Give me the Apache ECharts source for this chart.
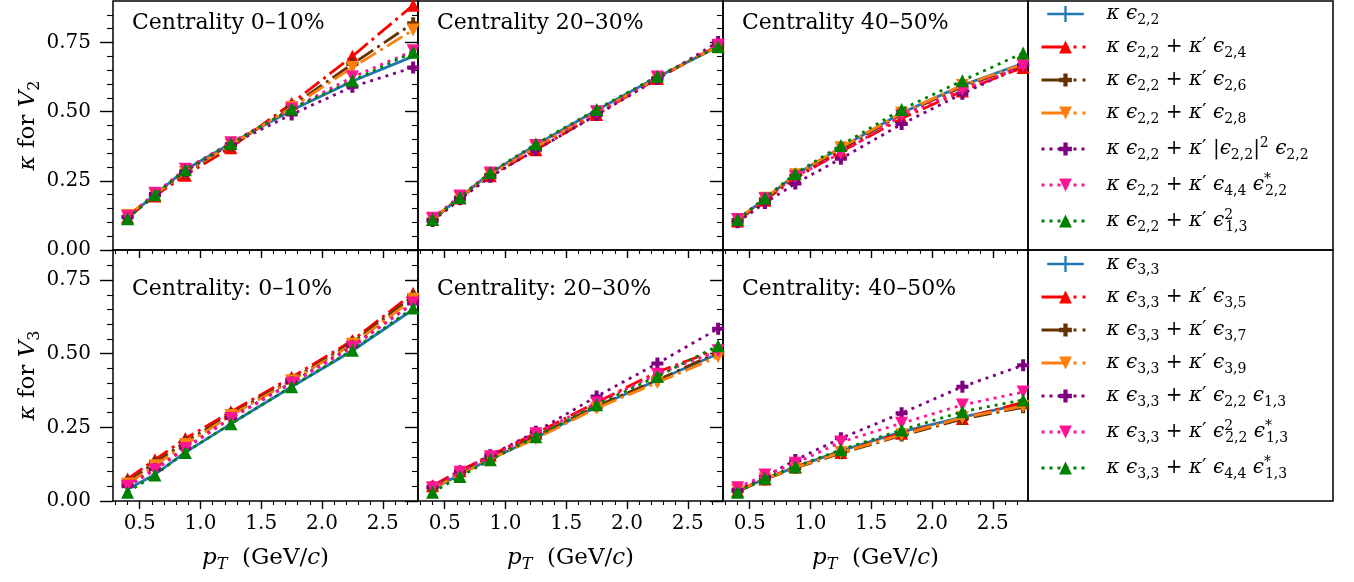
<!DOCTYPE html>
<html><head><meta charset="utf-8">
<script src="https://cdn.jsdelivr.net/npm/echarts@6/dist/echarts.min.js"></script>
<style>html,body{margin:0;padding:0;background:#fff}#c{width:1354px;height:582px}</style>
</head><body><div id="c"></div>
<script>
// ---------------- data ----------------
const pT = [0.4, 0.625, 0.875, 1.25, 1.75, 2.25, 2.75];
const xMajorTicks = [0.5, 1.0, 1.5, 2.0, 2.5];
const yMajorTicks = [0, 0.25, 0.5, 0.75];
const titlesV2 = ['Centrality 0–10%', 'Centrality 20–30%', 'Centrality 40–50%'];
const titlesV3 = ['Centrality: 0–10%', 'Centrality: 20–30%', 'Centrality: 40–50%'];

// series order: blue, red, brown, orange, purple, pink, green
const v2_c0_10 = [
  [0.118, 0.200, 0.290, 0.385, 0.505, 0.610, 0.700],
  [0.118, 0.195, 0.270, 0.370, 0.530, 0.700, 0.885],
  [0.120, 0.198, 0.278, 0.377, 0.520, 0.672, 0.820],
  [0.125, 0.200, 0.280, 0.380, 0.515, 0.660, 0.795],
  [0.118, 0.202, 0.285, 0.382, 0.490, 0.590, 0.660],
  [0.120, 0.205, 0.292, 0.388, 0.510, 0.625, 0.720],
  [0.113, 0.200, 0.290, 0.385, 0.510, 0.612, 0.715]
];
const v2_c20_30 = [
  [0.110, 0.190, 0.278, 0.380, 0.505, 0.625, 0.735],
  [0.110, 0.188, 0.268, 0.362, 0.490, 0.620, 0.740],
  [0.110, 0.190, 0.272, 0.370, 0.495, 0.622, 0.738],
  [0.112, 0.190, 0.273, 0.372, 0.497, 0.622, 0.738],
  [0.105, 0.183, 0.265, 0.362, 0.488, 0.618, 0.752],
  [0.115, 0.195, 0.278, 0.378, 0.500, 0.625, 0.740],
  [0.110, 0.190, 0.280, 0.383, 0.508, 0.628, 0.735]
];
const v2_c40_50 = [
  [0.110, 0.185, 0.272, 0.370, 0.495, 0.595, 0.675],
  [0.105, 0.180, 0.260, 0.355, 0.475, 0.575, 0.660],
  [0.108, 0.183, 0.268, 0.365, 0.490, 0.590, 0.668],
  [0.110, 0.187, 0.272, 0.370, 0.495, 0.595, 0.672],
  [0.100, 0.170, 0.240, 0.330, 0.455, 0.565, 0.668],
  [0.110, 0.185, 0.265, 0.350, 0.485, 0.580, 0.665],
  [0.110, 0.188, 0.276, 0.378, 0.508, 0.612, 0.712]
];
const v3_c0_10 = [
  [0.040, 0.090, 0.165, 0.262, 0.388, 0.510, 0.650],
  [0.075, 0.140, 0.212, 0.303, 0.420, 0.545, 0.705],
  [0.065, 0.130, 0.200, 0.295, 0.412, 0.538, 0.695],
  [0.058, 0.120, 0.192, 0.290, 0.408, 0.532, 0.685],
  [0.050, 0.108, 0.180, 0.282, 0.402, 0.525, 0.670],
  [0.050, 0.105, 0.178, 0.280, 0.400, 0.522, 0.672],
  [0.030, 0.088, 0.165, 0.262, 0.388, 0.512, 0.655]
];
const v3_c20_30 = [
  [0.040, 0.090, 0.142, 0.215, 0.320, 0.410, 0.500],
  [0.052, 0.103, 0.155, 0.230, 0.335, 0.438, 0.515],
  [0.045, 0.095, 0.147, 0.220, 0.322, 0.410, 0.505],
  [0.042, 0.090, 0.143, 0.212, 0.315, 0.402, 0.490],
  [0.048, 0.100, 0.155, 0.235, 0.355, 0.467, 0.585],
  [0.045, 0.098, 0.150, 0.228, 0.333, 0.430, 0.510],
  [0.030, 0.083, 0.140, 0.218, 0.327, 0.423, 0.527]
];
const v3_c40_50 = [
  [0.035, 0.075, 0.115, 0.170, 0.235, 0.285, 0.330],
  [0.035, 0.075, 0.115, 0.165, 0.230, 0.280, 0.335],
  [0.033, 0.073, 0.112, 0.162, 0.222, 0.278, 0.318],
  [0.035, 0.075, 0.113, 0.165, 0.225, 0.283, 0.322],
  [0.038, 0.082, 0.139, 0.213, 0.298, 0.388, 0.461],
  [0.045, 0.088, 0.128, 0.200, 0.264, 0.326, 0.370],
  [0.030, 0.077, 0.116, 0.174, 0.241, 0.303, 0.343]
];

const names2 = ['κ ϵ2,2', 'κ ϵ2,2 + κ′ ϵ2,4', 'κ ϵ2,2 + κ′ ϵ2,6', 'κ ϵ2,2 + κ′ ϵ2,8',
  'κ ϵ2,2 + κ′ |ϵ2,2|² ϵ2,2', 'κ ϵ2,2 + κ′ ϵ4,4 ϵ*2,2', 'κ ϵ2,2 + κ′ ϵ²1,3'];
const rich2 = [
  '{m|κ ϵ}{s|2,2}',
  '{m|κ ϵ}{s|2,2}{r| + }{m|κ}{r|′ }{m|ϵ}{s|2,4}',
  '{m|κ ϵ}{s|2,2}{r| + }{m|κ}{r|′ }{m|ϵ}{s|2,6}',
  '{m|κ ϵ}{s|2,2}{r| + }{m|κ}{r|′ }{m|ϵ}{s|2,8}',
  '{m|κ ϵ}{s|2,2}{r| + }{m|κ}{r|′ |}{m|ϵ}{s|2,2}{r||}{p|2}{m| ϵ}{s|2,2}',
  '{m|κ ϵ}{s|2,2}{r| + }{m|κ}{r|′ }{m|ϵ}{s|4,4}{m| ϵ}{z|*}{s|2,2}',
  '{m|κ ϵ}{s|2,2}{r| + }{m|κ}{r|′ }{m|ϵ}{z|2}{s|1,3}'
];
const names3 = ['κ ϵ3,3', 'κ ϵ3,3 + κ′ ϵ3,5', 'κ ϵ3,3 + κ′ ϵ3,7', 'κ ϵ3,3 + κ′ ϵ3,9',
  'κ ϵ3,3 + κ′ ϵ2,2 ϵ1,3', 'κ ϵ3,3 + κ′ ϵ²2,2 ϵ*1,3', 'κ ϵ3,3 + κ′ ϵ4,4 ϵ*1,3'];
const rich3 = [
  '{m|κ ϵ}{s|3,3}',
  '{m|κ ϵ}{s|3,3}{r| + }{m|κ}{r|′ }{m|ϵ}{s|3,5}',
  '{m|κ ϵ}{s|3,3}{r| + }{m|κ}{r|′ }{m|ϵ}{s|3,7}',
  '{m|κ ϵ}{s|3,3}{r| + }{m|κ}{r|′ }{m|ϵ}{s|3,9}',
  '{m|κ ϵ}{s|3,3}{r| + }{m|κ}{r|′ }{m|ϵ}{s|2,2}{m| ϵ}{s|1,3}',
  '{m|κ ϵ}{s|3,3}{r| + }{m|κ}{r|′ }{m|ϵ}{z|2}{s|2,2}{m| ϵ}{z|*}{s|1,3}',
  '{m|κ ϵ}{s|3,3}{r| + }{m|κ}{r|′ }{m|ϵ}{s|4,4}{m| ϵ}{z|*}{s|1,3}'
];

// ---------------- styles ----------------
const FONT = 'DejaVu Serif';
const PLUS = 'path://M1,0L2,0L2,1L3,1L3,2L2,2L2,3L1,3L1,2L0,2L0,1L1,1Z';
const DASHDOT = [18, 5, 3, 5];
const DOT = [3, 5];
const LEG_DASHDOT = [27, 5, 3, 6, 3, 20];
const styles = [
  {color: '#1f77b4', dash: 'solid', symbol: 'none', rot: 0, size: 0},
  {color: '#ff0000', dash: DASHDOT, symbol: 'triangle', rot: 0, size: 13},
  {color: '#663300', dash: DASHDOT, symbol: PLUS, rot: 0, size: 12},
  {color: '#ff7f0e', dash: DASHDOT, symbol: 'triangle', rot: 180, size: 13},
  {color: '#800080', dash: DOT, symbol: PLUS, rot: 0, size: 12},
  {color: '#ff1493', dash: DOT, symbol: 'triangle', rot: 180, size: 13},
  {color: '#008000', dash: DOT, symbol: 'triangle', rot: 0, size: 13}
];
const rich = {
  m: {fontFamily: FONT, fontStyle: 'italic', fontSize: 20, lineHeight: 26, color: '#000'},
  r: {fontFamily: FONT, fontSize: 20, lineHeight: 26, color: '#000'},
  s: {fontFamily: FONT, fontSize: 14, lineHeight: 12, verticalAlign: 'bottom', color: '#000'},
  p: {fontFamily: FONT, fontSize: 14, lineHeight: 12, verticalAlign: 'top', color: '#000'},
  z: {fontFamily: FONT, fontSize: 14, lineHeight: 12, verticalAlign: 'top', width: 1, color: '#000'},
  g: {width: 12}
};
const nameRich = {
  i: {fontFamily: FONT, fontStyle: 'italic', fontSize: 23, lineHeight: 30, color: '#000'},
  q: {fontFamily: FONT, fontSize: 23, lineHeight: 30, color: '#000'},
  s: {fontFamily: FONT, fontSize: 16, lineHeight: 14, verticalAlign: 'bottom', color: '#000'},
  t: {fontFamily: FONT, fontStyle: 'italic', fontSize: 16, lineHeight: 14, verticalAlign: 'bottom', color: '#000'}
};

// ---------------- layout ----------------
const colLeft = [113, 418, 723];
const PW = 305;
const rowTop = [1, 250];
const rowH = [249, 251];
const rowMax = [0.9, 0.852];
const xMin = 0.28, xMax = 2.79;
const xMinor = [], yMinor = [];
for (let k = 3; k <= 27; k++) if (k % 5 !== 0) xMinor.push(k / 10);
for (let k = 1; k <= 17; k++) if (k % 5 !== 0) yMinor.push(k / 20);

const panels = [[v2_c0_10, v2_c20_30, v2_c40_50], [v3_c0_10, v3_c20_30, v3_c40_50]];
const grids = [], xAxes = [], yAxes = [], series = [], titles = [];
let g = 0;
for (let r = 0; r < 2; r++) {
  for (let c = 0; c < 3; c++) {
    grids.push({left: colLeft[c], top: rowTop[r], width: PW, height: rowH[r], show: true,
      borderColor: '#000', borderWidth: 1.5, backgroundColor: 'transparent', containLabel: false});
    const xBase = {gridIndex: g, type: 'value', min: xMin, max: xMax, position: 'bottom',
      axisLine: {show: false}, splitLine: {show: false}};
    xAxes.push(Object.assign({}, xBase, {
      axisTick: {show: true, inside: false, length: 8, lineStyle: {color: '#000', width: 1.4}, customValues: xMajorTicks},
      axisLabel: {show: r === 1, customValues: xMajorTicks, formatter: v => v.toFixed(1), margin: 13,
        fontFamily: FONT, fontSize: 20, color: '#000'},
      name: r === 1 ? '{i|p}{t|T}{q|  (GeV/}{i|c}{q|)}' : '', nameLocation: 'middle', nameGap: 42,
      nameTextStyle: {rich: nameRich}
    }));
    xAxes.push(Object.assign({}, xBase, {
      axisTick: {show: true, inside: false, length: 4, lineStyle: {color: '#000', width: 1.1}, customValues: xMinor},
      axisLabel: {show: false}
    }));
    const yBase = {gridIndex: g, type: 'value', min: 0, max: rowMax[r], position: 'left',
      axisLine: {show: false}, splitLine: {show: false}};
    yAxes.push(Object.assign({}, yBase, {
      axisTick: {show: true, inside: false, length: 13, lineStyle: {color: '#000', width: 1.4}, customValues: yMajorTicks},
      axisLabel: {show: c === 0, customValues: yMajorTicks, formatter: v => v.toFixed(2), margin: 22,
        fontFamily: FONT, fontSize: 20, color: '#000'},
      name: c === 0 ? (r === 0 ? '{i|κ}{q| for }{i|V}{s|2}' : '{i|κ}{q| for }{i|V}{s|3}') : '',
      nameLocation: 'middle', nameRotate: 90, nameGap: 68, nameTextStyle: {rich: nameRich}
    }));
    yAxes.push(Object.assign({}, yBase, {
      axisTick: {show: true, inside: false, length: 6, lineStyle: {color: '#000', width: 1.1}, customValues: yMinor},
      axisLabel: {show: false}
    }));
    const data = panels[r][c];
    const names = r === 0 ? names2 : names3;
    data.forEach((vals, s) => {
      const st = styles[s];
      series.push({
        type: 'line', name: names[s], xAxisIndex: 2 * g, yAxisIndex: 2 * g,
        data: pT.map((x, i) => [x, vals[i]]),
        symbol: st.symbol, symbolSize: st.size, symbolRotate: st.rot, showSymbol: st.symbol !== 'none',
        lineStyle: {color: st.color, width: 2.8, type: st.dash},
        itemStyle: {color: st.color},
        emphasis: {disabled: true}, animation: false, z: 2 + s * 0.01
      });
    });
    titles.push({text: (r === 0 ? titlesV2 : titlesV3)[c], left: colLeft[c] + 14, top: r === 0 ? 7 : 273,
      textStyle: {fontFamily: FONT, fontSize: 22, fontWeight: 'normal', color: '#000'}});
    g++;
  }
}

const legendMap = {};
names2.forEach((n, i) => legendMap[n] = rich2[i]);
names3.forEach((n, i) => legendMap[n] = rich3[i]);
const ERRICON = 'path://M0,9L48,9L48,12L0,12Z M22.5,0L25.5,0L25.5,21L22.5,21Z';
function legendCfg(names, top) {
  return {
    left: 1040, top: top, orient: 'vertical', padding: 0, itemWidth: 48, itemHeight: 16, itemGap: 10,
    selectedMode: false,
    data: names.map((n, i) => {
      if (i === 0) return {name: n, icon: ERRICON};
      if (styles[i].dash === DASHDOT) return {name: n, lineStyle: {type: LEG_DASHDOT, width: 3}};
      return {name: n, lineStyle: {width: 3}};
    }),
    formatter: n => '{g| }' + legendMap[n],
    textStyle: {rich: rich, fontFamily: FONT, fontSize: 20, color: '#000'}
  };
}

const chart = echarts.init(document.getElementById('c'), null, {renderer: 'canvas'});
chart.setOption({
  backgroundColor: '#fff',
  animation: false,
  title: titles,
  grid: grids,
  xAxis: xAxes,
  yAxis: yAxes,
  legend: [legendCfg(names2, 4), legendCfg(names3, 254)],
  graphic: [
    {type: 'rect', shape: {x: 1028, y: 1, width: 305, height: 249}, style: {fill: 'none', stroke: '#000', lineWidth: 1.5}},
    {type: 'rect', shape: {x: 1028, y: 250, width: 305, height: 251}, style: {fill: 'none', stroke: '#000', lineWidth: 1.5}}
  ],
  series: series
});
</script></body></html>
